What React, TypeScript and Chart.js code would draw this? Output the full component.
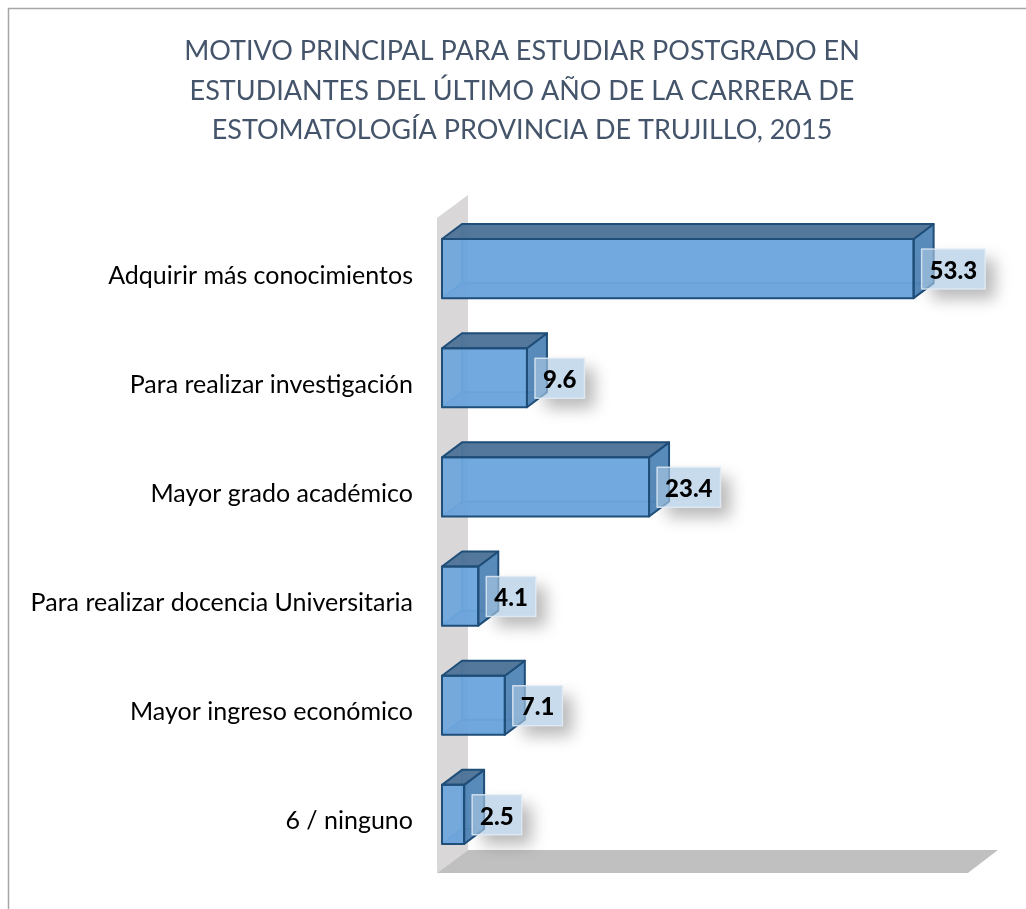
import React, { useEffect, useRef } from "react";
import { Chart, registerables } from "chart.js";

Chart.register(...registerables);

const categories = [
  "Adquirir más conocimientos",
  "Para realizar investigación",
  "Mayor grado académico",
  "Para realizar docencia Universitaria",
  "Mayor ingreso económico",
  "6 / ninguno",
];
const values = [53.3, 9.6, 23.4, 4.1, 7.1, 2.5];
const titleLines = [
  "MOTIVO PRINCIPAL PARA ESTUDIAR POSTGRADO EN",
  "ESTUDIANTES DEL ÚLTIMO AÑO DE LA CARRERA DE",
  "ESTOMATOLOGÍA PROVINCIA DE TRUJILLO, 2015",
];

const DX = 20;
const DY = -15;
const FLOOR_END = 60;
const FONT = "Lato, Carlito, sans-serif";
const EDGE = "#1f4e79";

function poly(ctx: CanvasRenderingContext2D, pts: number[][], fill?: string, stroke?: string, lw = 2) {
  ctx.beginPath();
  pts.forEach((p, i) => (i ? ctx.lineTo(p[0], p[1]) : ctx.moveTo(p[0], p[1])));
  ctx.closePath();
  if (fill) {
    ctx.fillStyle = fill;
    ctx.fill();
  }
  if (stroke) {
    ctx.strokeStyle = stroke;
    ctx.lineWidth = lw;
    ctx.lineJoin = "round";
    ctx.stroke();
  }
}

const frame3d = {
  id: "frame3d",
  beforeDraw(chart: any) {
    const { ctx, chartArea: a, width, height } = chart;
    ctx.save();
    ctx.fillStyle = "#fff";
    ctx.fillRect(0, 0, width, height);
    ctx.strokeStyle = "#a6a6a6";
    ctx.lineWidth = 1.5;
    ctx.beginPath();
    ctx.moveTo(8.5, height);
    ctx.lineTo(8.5, 8.5);
    ctx.lineTo(width, 8.5);
    ctx.stroke();
    const fl = a.left - 5;
    const fr = chart.scales.x.getPixelForValue(FLOOR_END) - 5;
    const ft = a.top + 4;
    const fb = a.bottom + 4;
    const bl = fl + 31;
    const br = fr + 30;
    const bt = ft - 23;
    const bb = fb - 23;
    poly(ctx, [[fl, ft], [bl, bt], [bl, bb], [fl, fb]], "#d9d7d8");
    poly(ctx, [[fl, fb], [bl, bb], [br, bb], [fr, fb]], "#c0c0c0");
    ctx.restore();
  },
  beforeDatasetsDraw(chart: any) {
    const { ctx } = chart;
    ctx.save();
    chart.getDatasetMeta(0).data.forEach((bar: any) => {
      const l = bar.base;
      const r = bar.x;
      const t = bar.y - bar.height / 2;
      const b = bar.y + bar.height / 2;
      // back walls seen through the translucent box
      poly(ctx, [[l + DX, t + DY], [r + DX, t + DY], [r + DX, b + DY], [l + DX, b + DY]], "rgba(94,155,214,0.45)");
      poly(ctx, [[l, b], [r, b], [r + DX, b + DY], [l + DX, b + DY]], "rgba(80,140,200,0.5)");
      ctx.strokeStyle = "#5b96cc";
      ctx.lineWidth = 2;
      ctx.beginPath();
      ctx.moveTo(l, b);
      ctx.lineTo(l + DX, b + DY);
      ctx.lineTo(l + DX, t + DY);
      ctx.moveTo(l + DX, b + DY);
      ctx.lineTo(r + DX, b + DY);
      ctx.stroke();
    });
    ctx.restore();
  },
  afterDatasetsDraw(chart: any) {
    const { ctx } = chart;
    ctx.save();
    const meta = chart.getDatasetMeta(0);
    meta.data.forEach((bar: any) => {
      const l = bar.base;
      const r = bar.x;
      const t = bar.y - bar.height / 2;
      const b = bar.y + bar.height / 2;
      poly(ctx, [[r, t], [r + DX, t + DY], [r + DX, b + DY], [r, b]], "rgba(78,130,180,0.9)", EDGE);
      poly(ctx, [[l, t], [l + DX, t + DY], [r + DX, t + DY], [r, t]], "rgba(76,114,150,0.94)", EDGE);
      ctx.strokeStyle = EDGE;
      ctx.lineWidth = 2;
      ctx.strokeRect(l, t, r - l, b - t);
    });
    ctx.textBaseline = "middle";
    ctx.textAlign = "center";
    meta.data.forEach((bar: any, i: number) => {
      const label = values[i].toFixed(1);
      ctx.font = `900 24px ${FONT}`;
      const w = ctx.measureText(label).width + 16;
      const h = 40;
      const x = bar.x + 8;
      const y = bar.y - bar.height / 2 + 10;
      // soft drop shadow, only outside the label box
      ctx.save();
      ctx.beginPath();
      ctx.rect(0, 0, chart.width, chart.height);
      ctx.rect(x, y, w, h);
      ctx.clip("evenodd");
      ctx.shadowColor = "rgba(0,0,0,0.28)";
      ctx.shadowBlur = 16;
      ctx.shadowOffsetX = 10;
      ctx.shadowOffsetY = 10;
      ctx.fillStyle = "#fff";
      ctx.fillRect(x, y, w, h);
      ctx.restore();
      ctx.fillStyle = "rgba(170,200,228,0.66)";
      ctx.fillRect(x, y, w, h);
      ctx.strokeStyle = "rgba(225,235,245,0.8)";
      ctx.lineWidth = 1.5;
      ctx.strokeRect(x, y, w, h);
      ctx.fillStyle = "#000";
      ctx.fillText(label, x + w / 2, y + h / 2 + 2);
    });
    ctx.restore();
  },
};

export default function App() {
  const ref = useRef<HTMLCanvasElement>(null);
  useEffect(() => {
    const chart = new Chart(ref.current!, {
      type: "bar",
      data: {
        labels: categories,
        datasets: [
          {
            data: values,
            backgroundColor: "rgba(106,164,220,0.9)",
            borderWidth: 0,
            categoryPercentage: 1,
            barPercentage: 59 / 109,
          },
        ],
      },
      options: {
        indexAxis: "y",
        animation: false,
        responsive: false,
        layout: { padding: { top: 32, bottom: 40, left: 18, right: 0 } },
        plugins: {
          legend: { display: false },
          tooltip: { enabled: false },
          title: {
            display: true,
            text: titleLines,
            color: "#44546a",
            font: { family: FONT, size: 27, weight: "normal", lineHeight: "39.5px" },
            padding: { top: 0, bottom: 63.5 },
          },
        },
        scales: {
          x: { display: false, min: 0, max: 66 },
          y: {
            grid: { display: false },
            border: { display: false },
            afterFit(scale: any) {
              scale.width = 424;
            },
            ticks: {
              color: "#000",
              padding: 21,
              labelOffset: 7,
              font: { family: FONT, size: 25 },
            },
          },
        },
      },
      plugins: [frame3d],
    } as any);
    return () => chart.destroy();
  }, []);
  return (
    <canvas
      ref={ref}
      width={1026}
      height={909}
      style={{ position: "absolute", left: 0, top: 0, display: "block" }}
    />
  );
}
